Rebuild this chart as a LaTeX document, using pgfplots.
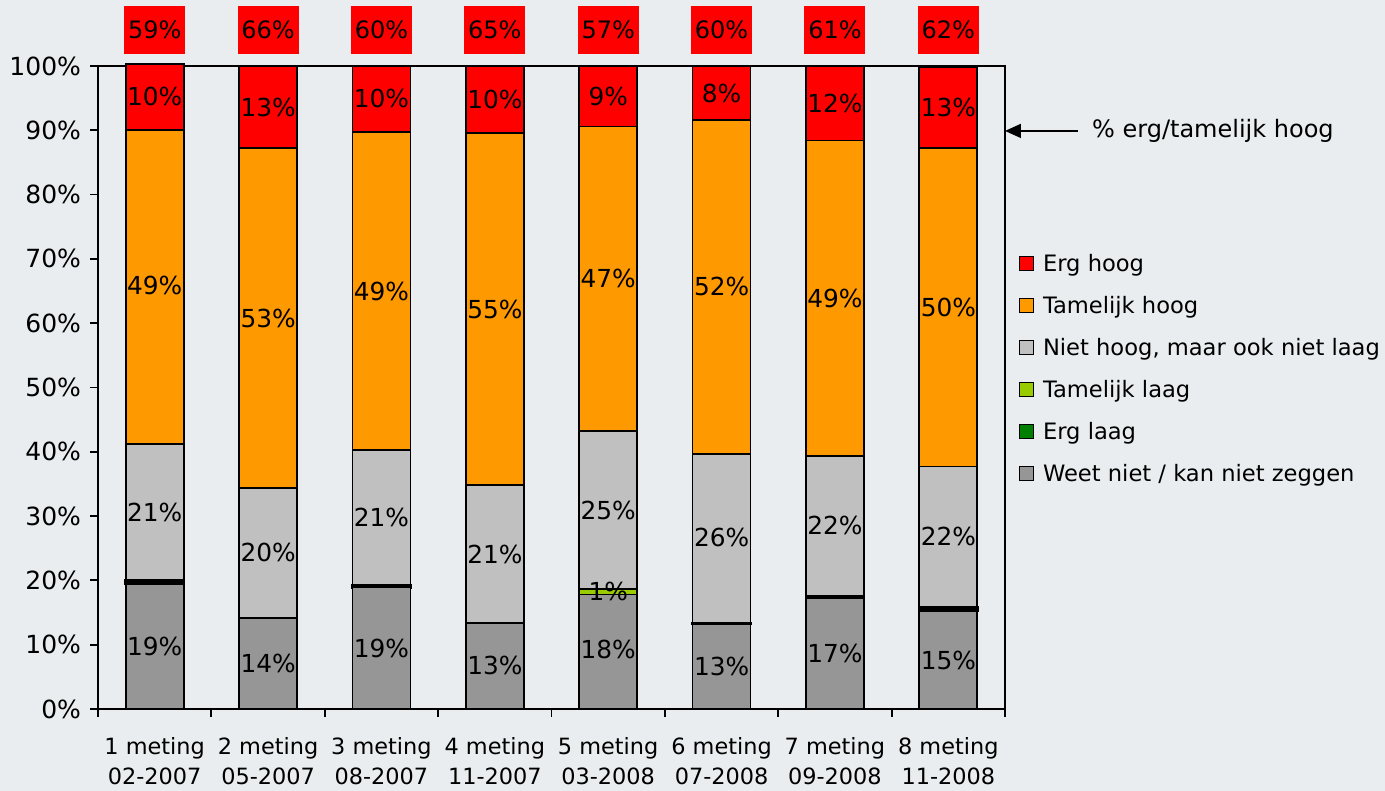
\documentclass[border=0pt]{standalone}
\usepackage{pgfplots}
\pgfplotsset{compat=1.18}
\usepackage{fontspec}
\setmainfont{DejaVu Sans}
\usetikzlibrary{arrows.meta}
\definecolor{bg}{HTML}{E9EDEF}
\definecolor{cErgHoog}{HTML}{FF0000}
\definecolor{cTamHoog}{HTML}{FF9900}
\definecolor{cNiet}{HTML}{C0C0C0}
\definecolor{cTamLaag}{HTML}{99CC00}
\definecolor{cErgLaag}{HTML}{008000}
\definecolor{cWeet}{HTML}{969696}
\begin{document}
\begin{tikzpicture}[font=\fontsize{11}{13}\selectfont]
\fill[bg] (0,0) rectangle (692.5pt,395.5pt);
\useasboundingbox (0,0) rectangle (692.5pt,395.5pt);
\begin{axis}[
  at={(49pt,41pt)}, anchor=south west,
  scale only axis, width=453.5pt, height=321.5pt,
  ybar stacked, bar width=29pt,
  xmin=-0.5, xmax=7.5, ymin=0, ymax=100,
  clip=false,
  axis line style={line width=0.9pt},
  xtick={-0.5,0.5,...,7.5}, xticklabels={},
  extra x ticks={0,1,2,3,4,5,6,7},
  extra x tick labels={{1 meting\\02-2007},{2 meting\\05-2007},{3 meting\\08-2007},{4 meting\\11-2007},{5 meting\\03-2008},{6 meting\\07-2008},{7 meting\\09-2008},{8 meting\\11-2008}},
  extra x tick style={major tick length=0pt, xticklabel style={align=center, yshift=-10.5pt, font=\fontsize{11.2}{15}\selectfont}},
  xtick pos=bottom, ytick pos=left, tick align=outside,
  major tick length=4pt,
  tick style={line width=0.9pt, black},
  ytick={0,10,...,100},
  yticklabel={\pgfmathprintnumber{\tick}\%},
  yticklabel style={xshift=-1pt, font=\fontsize{12.5}{14}\selectfont},
  /pgf/number format/assume math mode=true,
  every axis plot/.append style={draw=black, line width=0.9pt},
  reverse legend,
  legend cell align=left,
  legend style={at={(1.008,0.72)}, anchor=north west, draw=none, fill=none,
    row sep=6.9pt, font=\fontsize{11.3}{13}\selectfont,
    nodes={inner xsep=4.5pt}},
  legend image code/.code={\draw[#1,draw=black,line width=0.7pt] (0pt,-3pt) rectangle (7pt,4pt);},
]
\addplot[fill=cWeet] coordinates {(0,19.5)(1,14.2)(2,18.9)(3,13.4)(4,17.8)(5,13.2)(6,17.3)(7,15.3)};
\addlegendentry{Weet niet / kan niet zeggen}
\addplot[fill=cErgLaag, line width=1.3pt] coordinates {(0,0.5)(1,0)(2,0.4)(3,0)(4,0)(5,0.2)(6,0.3)(7,0.5)};
\addlegendentry{Erg laag}
\addplot[fill=cTamLaag] coordinates {(0,0)(1,0)(2,0)(3,0)(4,0.8)(5,0)(6,0)(7,0)};
\addlegendentry{Tamelijk laag}
\addplot[fill=cNiet] coordinates {(0,21.2)(1,20.2)(2,21.0)(3,21.4)(4,24.6)(5,26.3)(6,21.7)(7,21.9)};
\addlegendentry{Niet hoog, maar ook niet laag}
\addplot[fill=cTamHoog] coordinates {(0,48.8)(1,52.8)(2,49.4)(3,54.8)(4,47.4)(5,51.9)(6,49.1)(7,49.6)};
\addlegendentry{Tamelijk hoog}
\addplot[fill=cErgHoog] coordinates {(0,10.3)(1,12.8)(2,10.3)(3,10.4)(4,9.4)(5,8.4)(6,11.6)(7,12.6)};
\addlegendentry{Erg hoog}
\draw[{Triangle[length=8pt,width=7pt]}-, line width=0.9pt] (axis cs:7.5,89.9) -- (axis cs:8.14,89.9);
\node[anchor=west, inner sep=0pt, font=\fontsize{12}{14}\selectfont] at (axis cs:8.265,89.9) {\% erg/tamelijk hoog};
\end{axis}
\begin{axis}[
  at={(49pt,41pt)}, anchor=south west,
  scale only axis, width=453.5pt, height=321.5pt,
  xmin=-0.5, xmax=7.5, ymin=0, ymax=100,
  hide axis, clip=false,
]
\addplot[draw=none, mark=none, nodes near coords, point meta=explicit symbolic,
  every node near coord/.append style={anchor=center, text=black, inner sep=0pt, font=\fontsize{12.4}{14}\selectfont}]
  coordinates {
  (0,9.8)[19\%] (0,30.6)[21\%] (0,65.9)[49\%] (0,95.2)[10\%]
  (1,7.1)[14\%] (1,24.3)[20\%] (1,60.8)[53\%] (1,93.6)[13\%]
  (2,9.4)[19\%] (2,29.8)[21\%] (2,65.0)[49\%] (2,94.9)[10\%]
  (3,6.7)[13\%] (3,24.1)[21\%] (3,62.2)[55\%] (3,94.8)[10\%]
  (4,9.2)[18\%] (4,18.2)[1\%] (4,30.9)[25\%] (4,67.0)[47\%] (4,95.2)[9\%]
  (5,6.6)[13\%] (5,26.6)[26\%] (5,65.7)[52\%] (5,95.8)[8\%]
  (6,8.6)[17\%] (6,28.5)[22\%] (6,63.9)[49\%] (6,94.2)[12\%]
  (7,7.6)[15\%] (7,26.8)[22\%] (7,62.5)[50\%] (7,93.6)[13\%]
  };
\addplot[draw=none, mark=none, nodes near coords, point meta=explicit symbolic,
  every node near coord/.append style={anchor=center, text=black, fill=red,
    minimum width=30.5pt, minimum height=24pt, inner sep=0pt, font=\fontsize{12}{14}\selectfont}]
  coordinates {
  (0,105.6)[59\%] (1,105.6)[66\%] (2,105.6)[60\%] (3,105.6)[65\%]
  (4,105.6)[57\%] (5,105.6)[60\%] (6,105.6)[61\%] (7,105.6)[62\%]
  };
\end{axis}
\end{tikzpicture}
\end{document}
